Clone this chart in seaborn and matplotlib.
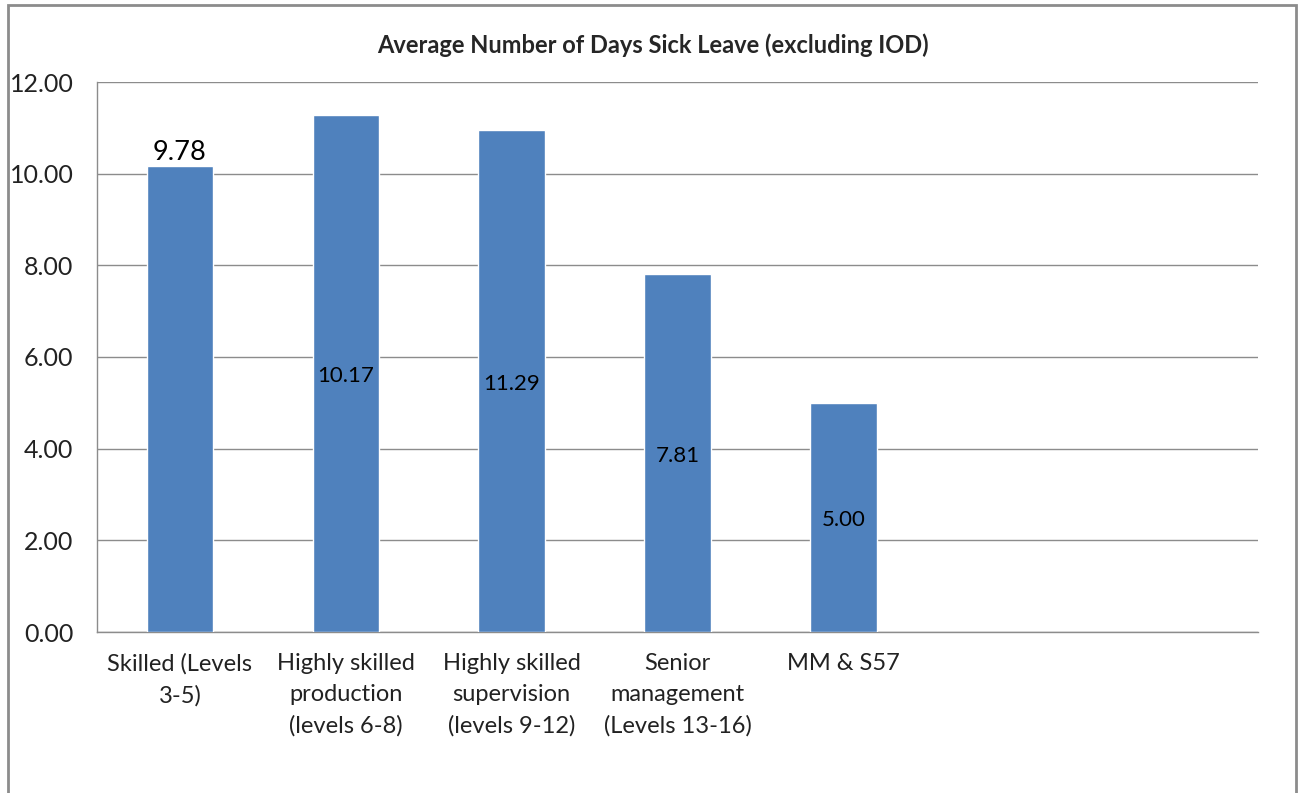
import matplotlib
matplotlib.use("Agg")
import matplotlib.pyplot as plt
import seaborn as sns
import pandas as pd
from matplotlib.patches import Rectangle
from matplotlib.ticker import FixedLocator

# values
categories = ["Skilled (Levels\n3-5)", "Highly skilled\nproduction\n(levels 6-8)",
              "Highly skilled\nsupervision\n(levels 9-12)", "Senior\nmanagement\n(Levels 13-16)",
              "MM & S57"]
days = [10.17, 11.29, 10.95, 7.81, 5.00]
# the data labels as they appear in the original (shifted by one bar)
label_text = ["9.78", "10.17", "11.29", "7.81", "5.00"]
n_slots = 7

sns.set_style("white")
plt.rcParams['font.family'] = ['Lato', 'DejaVu Sans']

df = pd.DataFrame({"category": categories, "days": days})

fig = plt.figure(figsize=(13.05, 7.93), dpi=100)
ax = fig.add_axes([97 / 1305, 1 - 632 / 793, (1258 - 97) / 1305, (632 - 82) / 793])

sns.barplot(data=df, x="category", y="days", color="#4F81BD", width=0.4,
            saturation=1, ax=ax, zorder=3)

# data labels: first above the bar, the rest in the middle
for i, (h, t) in enumerate(zip(days, label_text)):
    if i == 0:
        ax.text(i, h + 0.02, t, ha="center", va="bottom", fontsize=19.5, color="black", zorder=4)
    else:
        ax.text(i, h / 2 - 0.06, t, ha="center", va="center", fontsize=16, color="black", zorder=4)

ax.set_xlim(-0.5, n_slots - 0.5)
ax.set_ylim(0, 12)
ax.set_yticks([0, 2, 4, 6, 8, 10, 12])
ax.set_yticklabels([f"{v:.2f}" for v in [0, 2, 4, 6, 8, 10, 12]], fontsize=18, color="#222222")
ax.yaxis.grid(True, color="#8c8c8c", linewidth=1)
ax.set_axisbelow(True)

ax.xaxis.set_minor_locator(FixedLocator([k - 0.5 for k in range(n_slots + 1)]))
ax.tick_params(axis="x", which="major", length=0, pad=15, labelsize=17)
ax.tick_params(axis="x", which="minor", length=8, color="#8c8c8c", width=1)
ax.tick_params(axis="y", length=8, color="#8c8c8c", width=1, pad=9)
for lbl in ax.get_xticklabels():
    lbl.set_linespacing(1.6)
    lbl.set_color("#222222")
ax.set_xlabel("")
ax.set_ylabel("")

for s in ["top", "right"]:
    ax.spines[s].set_visible(False)
for s in ["left", "bottom"]:
    ax.spines[s].set_color("#8c8c8c")
    ax.spines[s].set_linewidth(1)

fig.text(653 / 1305, 1 - 45 / 793, "Average Number of Days Sick Leave (excluding IOD)",
         ha="center", va="center", fontsize=17, fontweight="bold")

# outer chart border
fig.patches.append(Rectangle((8 / 1305, -0.05), (1296 - 8) / 1305, 1.05 - 5 / 793,
                             transform=fig.transFigure, fill=False,
                             edgecolor="#8c8c8c", linewidth=2))

fig.savefig("out.png", dpi=100)
